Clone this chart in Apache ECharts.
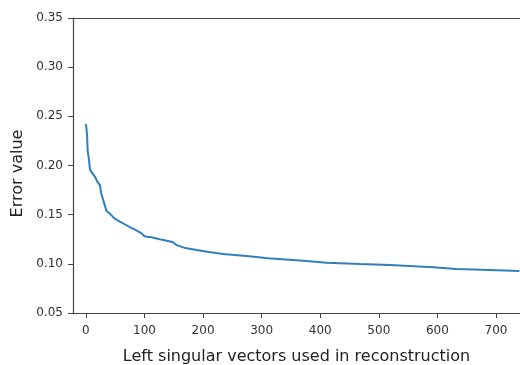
<!DOCTYPE html>
<html><head><meta charset="utf-8">
<script src="https://cdn.jsdelivr.net/npm/echarts@6/dist/echarts.min.js"></script>
<style>html,body{margin:0;padding:0;background:#fff}#c{width:520px;height:365px}</style>
</head><body><div id="c"></div>
<script>
const xVals = [0, 1, 2, 3, 5, 7, 10, 15, 18, 20, 24, 26, 28, 31, 35, 38, 41, 49, 58, 67, 76, 86, 95, 100, 105, 112, 126, 146, 150, 155, 170, 189, 210, 234, 274, 311, 371, 411, 468, 519, 593, 632, 689, 740];
const yVals = [0.242, 0.237, 0.231, 0.215, 0.207, 0.196, 0.193, 0.189, 0.188, 0.183, 0.180, 0.172, 0.168, 0.162, 0.154, 0.153, 0.151, 0.146, 0.143, 0.140, 0.137, 0.134, 0.131, 0.128, 0.1275, 0.127, 0.125, 0.1225, 0.1215, 0.119, 0.116, 0.114, 0.112, 0.110, 0.108, 0.1056, 0.1032, 0.1011, 0.0998, 0.0988, 0.0965, 0.0947, 0.0937, 0.0927];
const xTicks = [0, 100, 200, 300, 400, 500, 600, 700];
const yTicks = [0.05, 0.10, 0.15, 0.20, 0.25, 0.30, 0.35];
const xTitle = 'Left singular vectors used in reconstruction';
const yTitle = 'Error value';

const font = 'DejaVu Sans';
const chart = echarts.init(document.getElementById('c'), null, {renderer: 'canvas'});
const axisColor = '#444';
chart.setOption({
  animation: false,
  grid: {left: 73, top: 18, right: 0, bottom: 52, containLabel: false, outerBoundsMode: 'none'},
  xAxis: [{
    type: 'value', min: -22, max: 741,
    axisLine: {show: true, onZero: false, lineStyle: {color: axisColor, width: 1.2}},
    axisTick: {show: true, inside: false, length: 5, lineStyle: {color: axisColor}, customValues: xTicks},
    axisLabel: {color: '#333', fontFamily: font, fontSize: 12, margin: 12, customValues: xTicks},
    splitLine: {show: false},
    name: xTitle, nameLocation: 'middle', nameGap: 36,
    nameTextStyle: {color: '#222', fontFamily: font, fontSize: 16}
  }, {
    type: 'value', position: 'top', min: -22, max: 741,
    axisLine: {show: true, onZero: false, lineStyle: {color: axisColor, width: 1.2}},
    axisTick: {show: false}, axisLabel: {show: false}, splitLine: {show: false}
  }],
  yAxis: {
    type: 'value', min: 0.05, max: 0.35, interval: 0.05,
    axisLine: {show: true, onZero: false, lineStyle: {color: axisColor, width: 1.2}},
    axisTick: {show: true, inside: false, length: 5, lineStyle: {color: axisColor}, customValues: yTicks},
    axisLabel: {color: '#333', fontFamily: font, fontSize: 12, margin: 10, formatter: v => v.toFixed(2)},
    splitLine: {show: false},
    name: yTitle, nameLocation: 'middle', nameGap: 46, nameRotate: 90,
    nameTextStyle: {color: '#222', fontFamily: font, fontSize: 16, padding: [0, 16, 0, 0]}
  },
  series: [{
    type: 'line', xAxisIndex: 0,
    data: xVals.map((x, i) => [x, yVals[i]]),
    showSymbol: false, smooth: false,
    lineStyle: {color: '#2f7fbd', width: 2},
    clip: true
  }]
});
</script></body></html>
